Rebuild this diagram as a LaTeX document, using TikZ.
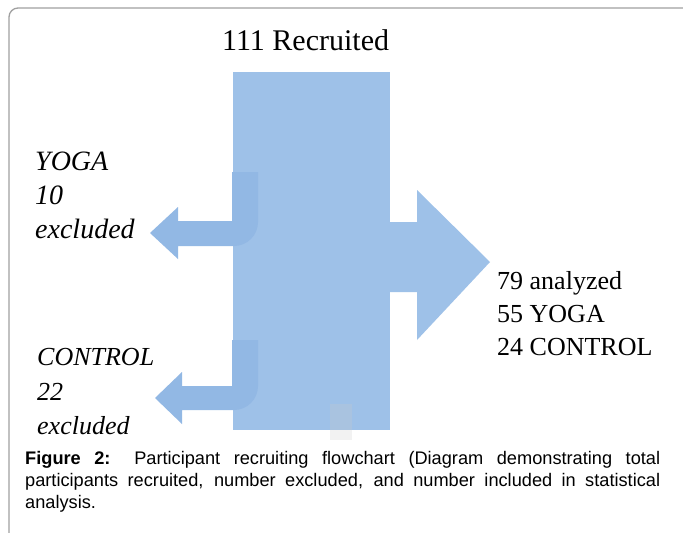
\documentclass[tikz,border=0pt]{standalone}
\usepackage{fontspec}
\setmainfont{Liberation Serif}
\newfontfamily\capfont{Liberation Sans}
\definecolor{boxblue}{RGB}{158,193,232}
\definecolor{arrblue}{RGB}{146,184,228}
\definecolor{framegray}{RGB}{160,160,160}
\tikzset{
  lbl/.style={anchor=base west, inner sep=0pt, font=\fontsize{26}{30}\selectfont},
  ilbl/.style={anchor=base west, inner sep=0pt, font=\fontsize{26}{30}\selectfont\itshape},
  caplbl/.style={anchor=base west, inner sep=0pt, font=\capfont\fontsize{18.2}{22}\selectfont},
  blueshape/.style={fill=boxblue, draw=none},
  bentarrow/.style={fill=arrblue, draw=none},
}
\begin{document}
\begin{tikzpicture}[x=1pt,y=-1pt]
\useasboundingbox (0,0) rectangle (683,533);
\fill[white] (0,0) rectangle (683,533);
% frame
\draw[framegray, line width=1.3pt, rounded corners=9pt] (9,540) -- (9,8) -- (690,8);
% title
\node[lbl, font=\fontsize{30}{34}\selectfont] (title) at (222,50) {111 Recruited};
% main box
\node[blueshape, minimum width=157pt, minimum height=358pt, inner sep=0pt, anchor=north west] (main) at (233,72) {};
% faint artifact square
\fill[gray!40, opacity=0.25] (330,404) rectangle (352,440);
% right arrow
\fill[boxblue] (389,222) -- (417,222) -- (417,190) -- (490,262) -- (417,340) -- (417,292) -- (389,292) -- cycle;
\coordinate (tip) at (490,262);
% upper bent arrow
\fill[bentarrow] (232,172) -- (258,172) -- (258,222) arc[start angle=0, end angle=90, radius=24] -- (178,246) -- (178,259) -- (150,233) -- (178,207) -- (178,221) -- (232,221) -- cycle;
% lower bent arrow
\fill[bentarrow] (232,340) -- (258,340) -- (258,386) arc[start angle=0, end angle=90, radius=24] -- (182,410) -- (182,424) -- (155,398) -- (182,372) -- (182,386) -- (232,386) -- cycle;
% right texts
\node[lbl] (an) at (497,289) {79 analyzed};
\node[lbl] (yo) at (497,322) {55 YOGA};
\node[lbl] (co) at (497,355) {24 CONTROL};
% left texts upper
\node[ilbl, font=\fontsize{28}{30}\selectfont\itshape] (y1) at (35,170) {YOGA};
\node[ilbl, font=\fontsize{28}{30}\selectfont\itshape] (y2) at (35,204) {10};
\node[ilbl, font=\fontsize{28}{30}\selectfont\itshape] (y3) at (35,238) {excluded};
% left texts lower
\node[ilbl] (c1) at (37,365) {CONTROL};
\node[ilbl] (c2) at (37,400) {22};
\node[ilbl] (c3) at (37,434) {excluded};
% caption
\node[caplbl] (cap1) at (25,464) {\makebox[635pt][s]{\textbf{Figure 2:} Participant recruiting flowchart (Diagram demonstrating total}};
\node[caplbl] (cap2) at (25,486) {\makebox[635pt][s]{participants recruited, number excluded, and number included in statistical}};
\node[caplbl] (cap3) at (25,508) {analysis.};
\end{tikzpicture}
\end{document}
